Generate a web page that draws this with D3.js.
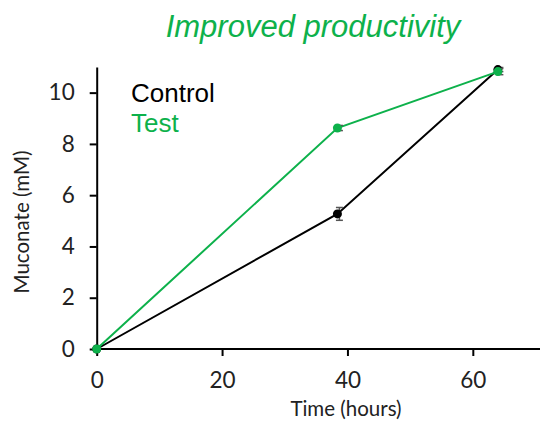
<!DOCTYPE html>
<html>
<head>
<meta charset="utf-8">
<script src="https://cdn.jsdelivr.net/npm/d3@7"></script>
<style>
  html, body { margin: 0; padding: 0; background: #fff; }
  svg { display: block; }
</style>
</head>
<body>
<svg id="chart" width="540" height="421"></svg>
<script>
// Muconate titre over time for control and test strains
const timeHours = [0, 38.4, 64];
const controlMuconate = [0, 5.27, 10.9];
const controlErr = [0.03, 0.25, 0.08];
const testMuconate = [0, 8.62, 10.82];
const testErr = [0.03, 0.1, 0.12];
const xTicks = [0, 20, 40, 60];
const yTicks = [0, 2, 4, 6, 8, 10];

const GREEN = "#0db14b";
const svg = d3.select("#chart");

const x = d3.scaleLinear().domain([0, 70]).range([96.7, 535.5]);
const y = d3.scaleLinear().domain([0, 11]).range([349, 67]);

const tickFont = "Lato, 'Open Sans', sans-serif";

// axes
const gx = svg.append("g").attr("transform", `translate(0,${y(0)})`)
  .call(d3.axisBottom(x).tickValues(xTicks).tickSize(7).tickSizeOuter(0).tickPadding(16));
const gy = svg.append("g").attr("transform", `translate(${x(0)},0)`)
  .call(d3.axisLeft(y).tickValues(yTicks).tickSize(7).tickSizeOuter(0).tickPadding(15));
[gx, gy].forEach(g => {
  g.select(".domain").attr("stroke", "#000").attr("stroke-width", 2);
  g.selectAll(".tick line").attr("stroke", "#000").attr("stroke-width", 2);
  g.selectAll(".tick text").attr("fill", "#222").style("font-family", tickFont)
    .style("font-size", "22.5px");
});
gx.select(".domain").attr("d", `M${x(0)},0H540`);

// axis titles
svg.append("text").attr("x", 346).attr("y", 416).attr("text-anchor", "middle")
  .style("font-family", tickFont).style("font-size", "20.5px").attr("fill", "#222")
  .text("Time (hours)");
svg.append("text").attr("transform", "translate(29,222) rotate(-90)").attr("text-anchor", "middle")
  .style("font-family", tickFont).style("font-size", "20.5px").attr("fill", "#222")
  .text("Muconate (mM)");

// title
svg.append("text").attr("x", 313).attr("y", 37).attr("text-anchor", "middle")
  .style("font-family", "'Liberation Sans', Arial, sans-serif").style("font-style", "italic")
  .style("font-size", "31px").attr("fill", GREEN).text("Improved productivity");

// legend
svg.append("text").attr("x", 131).attr("y", 102)
  .style("font-family", "'Liberation Sans', Arial, sans-serif").style("font-size", "26px")
  .attr("fill", "#000").text("Control");
svg.append("text").attr("x", 131).attr("y", 132)
  .style("font-family", "'Liberation Sans', Arial, sans-serif").style("font-size", "26px")
  .attr("fill", GREEN).text("Test");

const line = d3.line().x(d => x(d[0])).y(d => y(d[1]));

function drawSeries(vals, errs, color) {
  const pts = timeHours.map((t, i) => [t, vals[i], errs[i]]);
  svg.append("path").datum(pts).attr("d", line).attr("fill", "none")
    .attr("stroke", color).attr("stroke-width", 2);
  const eb = svg.append("g").attr("stroke", "#555").attr("stroke-width", 1.5);
  pts.filter(d => d[0] > 0).forEach(d => {
    const cx = x(d[0]) + 2, y1 = y(d[1] - d[2]), y2 = y(d[1] + d[2]);
    eb.append("line").attr("x1", cx).attr("x2", cx).attr("y1", y1).attr("y2", y2);
    eb.append("line").attr("x1", cx - 3.5).attr("x2", cx + 3.5).attr("y1", y1).attr("y2", y1);
    eb.append("line").attr("x1", cx - 3.5).attr("x2", cx + 3.5).attr("y1", y2).attr("y2", y2);
  });
  svg.append("g").selectAll("circle").data(pts).join("circle")
    .attr("cx", d => x(d[0])).attr("cy", d => y(d[1])).attr("r", 4.5).attr("fill", color);
}

drawSeries(controlMuconate, controlErr, "#000");
drawSeries(testMuconate, testErr, GREEN);
</script>
</body>
</html>
